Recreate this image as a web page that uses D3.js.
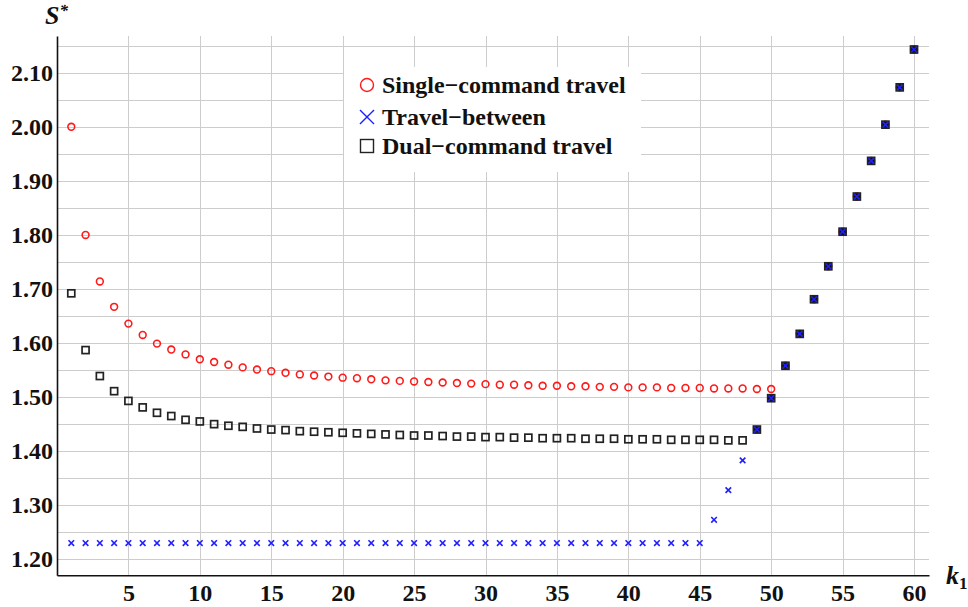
<!DOCTYPE html>
<html>
<head>
<meta charset="utf-8">
<script src="https://cdn.jsdelivr.net/npm/d3@7"></script>
<style>
  body { margin: 0; background: #fff; }
  svg { display: block; font-family: "Liberation Serif", "Times New Roman", serif; }
</style>
</head>
<body>
<div id="chart"></div>
<script>
let width = 968, height = 607;

// k1 = 1..60
let kValues = [1,2,3,4,5,6,7,8,9,10,11,12,13,14,15,16,17,18,19,20,21,22,23,24,25,26,27,28,29,30,
  31,32,33,34,35,36,37,38,39,40,41,42,43,44,45,46,47,48,49,50,51,52,53,54,55,56,57,58,59,60];

let singleCommand = [2.000,1.800,1.714,1.667,1.636,1.615,1.599,1.588,1.579,1.570,
  1.565,1.560,1.555,1.551,1.548,1.545,1.542,1.540,1.538,1.536,
  1.535,1.533,1.531,1.530,1.529,1.528,1.527,1.526,1.525,1.524,
  1.523,1.523,1.522,1.521,1.521,1.520,1.520,1.519,1.519,1.518,
  1.518,1.518,1.517,1.517,1.517,1.516,1.516,1.516,1.515,1.515,
  1.558,1.617,1.681,1.742,1.806,1.871,1.937,2.004,2.073,2.143];

let travelBetween = [1.230,1.230,1.230,1.230,1.230,1.230,1.230,1.230,1.230,1.230,
  1.230,1.230,1.230,1.230,1.230,1.230,1.230,1.230,1.230,1.230,
  1.230,1.230,1.230,1.230,1.230,1.230,1.230,1.230,1.230,1.230,
  1.230,1.230,1.230,1.230,1.230,1.230,1.230,1.230,1.230,1.230,
  1.230,1.230,1.230,1.230,1.230,1.273,1.328,1.383,1.440,1.498,
  1.558,1.617,1.681,1.742,1.806,1.871,1.937,2.004,2.073,2.143];

let dualCommand = [1.692,1.587,1.539,1.511,1.493,1.481,1.471,1.465,1.458,1.455,
  1.450,1.447,1.445,1.442,1.440,1.439,1.437,1.436,1.435,1.434,
  1.433,1.432,1.431,1.430,1.429,1.429,1.428,1.427,1.427,1.426,
  1.426,1.425,1.425,1.424,1.424,1.424,1.423,1.423,1.423,1.422,
  1.422,1.422,1.421,1.421,1.421,1.421,1.420,1.420,1.440,1.498,
  1.558,1.617,1.681,1.742,1.806,1.871,1.937,2.004,2.073,2.143];

let xTicks = [5,10,15,20,25,30,35,40,45,50,55,60];
let yTicks = [1.20,1.30,1.40,1.50,1.60,1.70,1.80,1.90,2.00,2.10];
let yGrid = [1.20,1.25,1.30,1.35,1.40,1.45,1.50,1.55,1.60,1.65,1.70,1.75,1.80,1.85,1.90,1.95,2.00,2.05,2.10,2.15];
let legendLabels = ["Single\u2212command travel", "Travel\u2212between", "Dual\u2212command travel"];

let x = d3.scaleLinear().domain([0, 61.05]).range([57, 929]);
let y = d3.scaleLinear().domain([1.1704, 2.168]).range([575.3, 36]);

let svg = d3.select("#chart").append("svg")
    .attr("width", width)
    .attr("height", height);

// grid
let grid = svg.append("g").attr("stroke", "#cdcdcd").attr("stroke-width", 1);
grid.selectAll("line.h").data(yGrid).join("line")
    .attr("class", "h")
    .attr("x1", x(0)).attr("x2", x(61.05))
    .attr("y1", d => Math.round(y(d)) + 0.5).attr("y2", d => Math.round(y(d)) + 0.5);
grid.selectAll("line.v").data(xTicks).join("line")
    .attr("class", "v")
    .attr("y1", y(1.1704)).attr("y2", y(2.168))
    .attr("x1", d => Math.round(x(d)) + 0.5).attr("x2", d => Math.round(x(d)) + 0.5);

// axes
let xAxis = g => g
    .attr("transform", `translate(0,${y(1.1704)})`)
    .call(d3.axisBottom(x).tickValues(xTicks).tickSize(0).tickPadding(9))
    .call(g => g.select(".domain").attr("stroke", "#111").attr("stroke-width", 1.6))
    .call(g => g.selectAll("text")
        .attr("font-family", "Liberation Serif")
        .attr("font-weight", "bold")
        .attr("font-size", 24)
        .attr("fill", "#111"));

let yAxis = g => g
    .attr("transform", `translate(${x(0)},0)`)
    .call(d3.axisLeft(y).tickValues(yTicks).tickFormat(d3.format(".2f")).tickSize(0).tickPadding(4))
    .call(g => g.select(".domain").attr("stroke", "#111").attr("stroke-width", 1.6))
    .call(g => g.selectAll("text")
        .attr("font-family", "Liberation Serif")
        .attr("font-weight", "bold")
        .attr("font-size", 24)
        .attr("fill", "#111"));

svg.append("g").call(xAxis);
svg.append("g").call(yAxis);

// axis titles
let sLabel = svg.append("text")
    .attr("x", 45).attr("y", 24)
    .attr("font-family", "Liberation Serif")
    .attr("font-weight", "bold")
    .attr("font-style", "italic")
    .attr("font-size", 26)
    .attr("fill", "#111");
sLabel.append("tspan").text("S");
sLabel.append("tspan").attr("font-size", 17).attr("dy", -8).text("*");

let kLabel = svg.append("text")
    .attr("x", 946).attr("y", 584)
    .attr("font-family", "Liberation Serif")
    .attr("font-weight", "bold")
    .attr("font-size", 26)
    .attr("fill", "#111");
kLabel.append("tspan").attr("font-style", "italic").text("k");
kLabel.append("tspan").attr("font-size", 17).attr("dy", 5).text("1");

// data
let singleData = kValues.map((k, i) => ({k, v: singleCommand[i]}));
let travelData = kValues.map((k, i) => ({k, v: travelBetween[i]}));
let dualData = kValues.map((k, i) => ({k, v: dualCommand[i], same: dualCommand[i] === travelBetween[i]}));

svg.append("g")
    .selectAll("circle")
    .data(singleData)
    .join("circle")
    .attr("cx", d => x(d.k))
    .attr("cy", d => y(d.v))
    .attr("r", 3.4)
    .attr("fill", "none")
    .attr("stroke", "#ff1a1a")
    .attr("stroke-width", 1.6);

svg.append("g")
    .selectAll("rect")
    .data(dualData)
    .join("rect")
    .attr("x", d => x(d.k) - 3.5)
    .attr("y", d => y(d.v) - 3.5)
    .attr("width", 7)
    .attr("height", 7)
    .attr("fill", d => d.same ? "#111" : "none")
    .attr("stroke", "#222")
    .attr("stroke-width", 1.7);

let cross = d3.symbol().type(d3.symbolX).size(22);
svg.append("g")
    .selectAll("path")
    .data(travelData)
    .join("path")
    .attr("transform", d => `translate(${x(d.k)},${y(d.v)})`)
    .attr("d", cross)
    .attr("fill", "none")
    .attr("stroke", "#2020ff")
    .attr("stroke-width", 1.6);

// legend
let legend = svg.append("g");
legend.append("rect")
    .attr("x", 344).attr("y", 67)
    .attr("width", 297).attr("height", 105)
    .attr("fill", "#fff");

let rows = [85, 117, 146];
let lx = 367;
legend.append("circle").attr("cx", lx).attr("cy", rows[0]).attr("r", 6.5)
    .attr("fill", "none").attr("stroke", "#ff1a1a").attr("stroke-width", 1.4);
legend.append("path").attr("transform", `translate(${lx},${rows[1]})`)
    .attr("d", d3.symbol().type(d3.symbolX).size(130)())
    .attr("fill", "none").attr("stroke", "#2020ff").attr("stroke-width", 1.4);
legend.append("rect").attr("x", lx - 6.5).attr("y", rows[2] - 6.5).attr("width", 13).attr("height", 13)
    .attr("fill", "none").attr("stroke", "#222").attr("stroke-width", 1.4);

legend.selectAll("text")
    .data(legendLabels)
    .join("text")
    .attr("x", 382)
    .attr("y", (d, i) => rows[i] + 8)
    .attr("font-family", "Liberation Serif")
    .attr("font-weight", "bold")
    .attr("font-size", 24)
    .attr("fill", "#111")
    .text(d => d);
</script>
</body>
</html>
